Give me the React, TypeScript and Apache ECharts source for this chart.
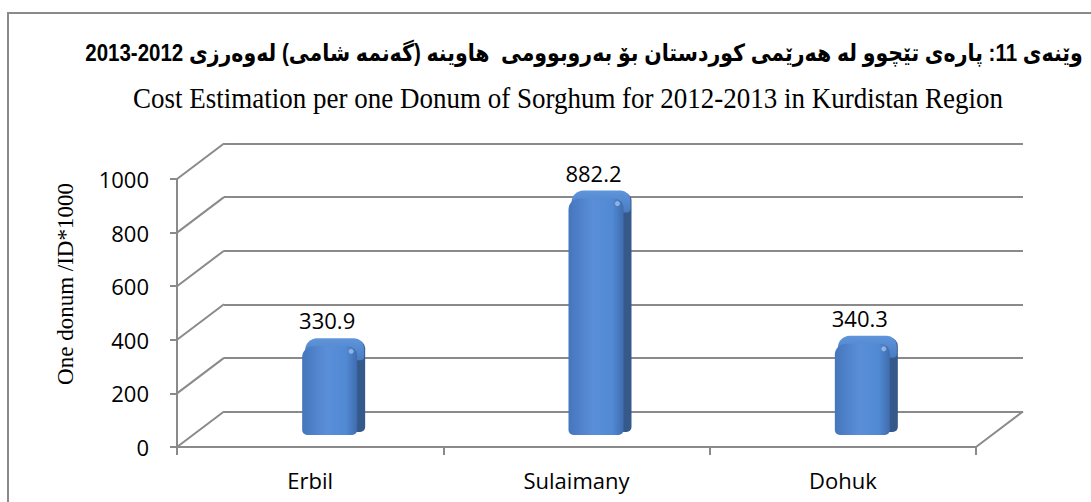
import React, { useEffect, useRef } from "react";
import * as echarts from "echarts";

const categories = ["Erbil", "Sulaimany", "Dohuk"];
const values = [330.9, 882.2, 340.3];
const yTicks = [0, 200, 400, 600, 800, 1000];

const titleKu = "وێنەی 11: پارەی تێچوو لە هەرێمی کوردستان بۆ بەروبوومی  هاوینە (گەنمە شامی) لەوەرزی 2012-2013";
const titleEn = "Cost Estimation per one Donum of Sorghum for 2012-2013 in Kurdistan Region";
const yTitle = "One donum /ID*1000";

const GRAY = "#8a8a8a";
const DX = 47;
const DY = -35.5;

export default function App() {
  const ref = useRef<HTMLDivElement>(null);
  useEffect(() => {
    if (!ref.current) return;
    const chart = echarts.init(ref.current, null, { renderer: "svg" });
    const labelFont = { fontFamily: "'Open Sans', sans-serif", fontSize: 22, color: "#000" };
    chart.setOption({
      animation: false,
      backgroundColor: "#fff",
      graphic: [
        {
          type: "rect",
          shape: { x: 8, y: 13, width: 1110, height: 520 },
          style: { fill: "none", stroke: GRAY, lineWidth: 2 },
          silent: true,
        },
        {
          type: "text",
          x: 584,
          y: 53,
          scaleY: 1.15,
          style: {
            text: titleKu,
            fontFamily: "'Liberation Sans', 'DejaVu Sans', sans-serif",
            fontWeight: "bold",
            fontSize: 20.5,
            fill: "#000",
            align: "center",
            verticalAlign: "middle",
          },
        },
        {
          type: "text",
          x: 568,
          y: 97,
          scaleY: 1.12,
          style: {
            text: titleEn,
            fontFamily: "'Liberation Serif', 'Times New Roman', serif",
            fontSize: 27,
            fill: "#000",
            align: "center",
            verticalAlign: "middle",
          },
        },
        {
          type: "text",
          x: 65,
          y: 284,
          rotation: Math.PI / 2,
          style: {
            text: yTitle,
            fontFamily: "'Liberation Serif', 'Times New Roman', serif",
            fontSize: 23,
            fill: "#000",
            align: "center",
            verticalAlign: "middle",
          },
        },
      ],
      grid: [
        { left: 177, right: 115, top: 179, bottom: 55 },
        { left: 224, right: 68, top: 143.5, bottom: 90.5 },
      ],
      xAxis: [
        {
          gridIndex: 0,
          type: "category",
          data: categories,
          axisLine: { show: true, lineStyle: { color: GRAY, width: 2 } },
          axisTick: { show: true, length: 8, lineStyle: { color: GRAY, width: 2 } },
          axisLabel: { ...labelFont, margin: 22 },
          splitLine: { show: false },
        },
        { gridIndex: 1, type: "category", data: categories, show: false },
      ],
      yAxis: [
        {
          gridIndex: 0,
          type: "value",
          min: 0,
          max: 1000,
          interval: 200,
          axisLine: { show: true, lineStyle: { color: GRAY, width: 2 } },
          axisTick: { show: true, length: 7, lineStyle: { color: GRAY, width: 2 } },
          axisLabel: { ...labelFont, margin: 28, formatter: (v: number) => String(v) },
          splitLine: { show: false },
        },
        {
          gridIndex: 1,
          type: "value",
          min: 0,
          max: 1000,
          interval: 200,
          axisLine: { show: false },
          axisTick: { show: false },
          axisLabel: { show: false },
          splitLine: { show: true, lineStyle: { color: GRAY, width: 2 } },
        },
      ],
      series: [
        {
          type: "custom",
          xAxisIndex: 0,
          yAxisIndex: 0,
          silent: true,
          data: yTicks.map((v) => [0, v]),
          encode: { x: 0, y: 1 },
          renderItem: (params: any, api: any) => {
            const cs = params.coordSys;
            const v = api.value(1);
            const y = api.coord([0, v])[1];
            const x0 = cs.x;
            const children: any[] = [
              {
                type: "line",
                shape: { x1: x0, y1: y, x2: x0 + DX, y2: y + DY },
                style: { stroke: GRAY, lineWidth: 2 },
              },
            ];
            if (v === 0) {
              const x1 = cs.x + cs.width;
              children.push({
                type: "line",
                shape: { x1: x1, y1: y, x2: x1 + DX, y2: y + DY },
                style: { stroke: GRAY, lineWidth: 2 },
              });
            }
            return { type: "group", children };
          },
        },
        {
          type: "custom",
          xAxisIndex: 0,
          yAxisIndex: 0,
          data: values.map((v, i) => [i, v]),
          encode: { x: 0, y: 1 },
          z: 5,
          renderItem: (params: any, api: any) => {
            const i = api.value(0);
            const v = api.value(1);
            const [cx, ty] = api.coord([i, v]);
            const by = api.coord([i, 0])[1];
            const L = cx + 23 - 31;
            const R = cx + 23 + 24;
            const top = ty - 12;
            const bottom = by - 12;
            return {
              type: "group",
              children: [
                {
                  type: "rect",
                  shape: { x: R - 8, y: top - 6, width: 16, height: bottom - top + 3, r: [8, 8, 5, 5] },
                  style: { fill: "#36598b" },
                },
                {
                  type: "rect",
                  shape: { x: L + 3, y: top - 8, width: R - L + 4, height: 22, r: [12, 10, 4, 4] },
                  style: {
                    fill: new echarts.graphic.LinearGradient(0, 0, 0, 1, [
                      { offset: 0, color: "#5f95dc" },
                      { offset: 1, color: "#4a7cc2" },
                    ]),
                  },
                },
                {
                  type: "rect",
                  shape: { x: L, y: top, width: R - L, height: bottom - top, r: [11, 9, 5, 5] },
                  style: {
                    fill: new echarts.graphic.LinearGradient(0, 0, 1, 0, [
                      { offset: 0, color: "#4576bd" },
                      { offset: 0.45, color: "#5a8fd8" },
                      { offset: 0.8, color: "#5189d3" },
                      { offset: 1, color: "#3f6cae" },
                    ]),
                  },
                },
                {
                  type: "circle",
                  shape: { cx: R - 6, cy: top + 5, r: 2.5 },
                  style: { fill: "rgba(190,215,250,0.6)" },
                },
                {
                  type: "text",
                  x: cx + 17,
                  y: top - 26,
                  style: {
                    text: String(v),
                    fontFamily: "'Open Sans', sans-serif",
                    fontSize: 22,
                    fill: "#000",
                    align: "center",
                    verticalAlign: "middle",
                  },
                },
              ],
            };
          },
        },
      ],
    });
    return () => chart.dispose();
  }, []);
  return <div ref={ref} style={{ width: 1091, height: 502, position: "absolute", left: 0, top: 0 }} />;
}
